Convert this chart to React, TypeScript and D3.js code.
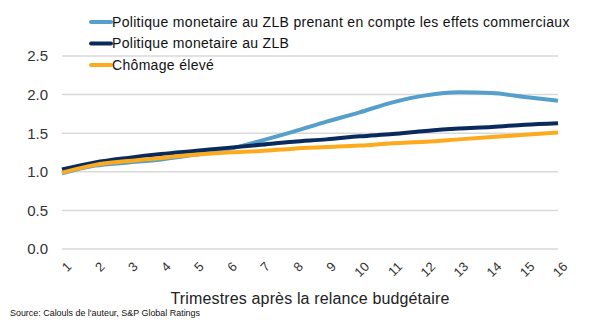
import React from "react";
import * as d3 from "d3";

const quarters = [1, 2, 3, 4, 5, 6, 7, 8, 9, 10, 11, 12, 13, 14, 15, 16];
const zlbTrade = [0.98, 1.08, 1.12, 1.16, 1.22, 1.29, 1.4, 1.52, 1.65, 1.77, 1.9, 1.99, 2.03, 2.02, 1.97, 1.92];
const zlb = [1.03, 1.12, 1.18, 1.23, 1.27, 1.31, 1.35, 1.39, 1.42, 1.46, 1.49, 1.53, 1.56, 1.58, 1.61, 1.63];
const chomage = [0.99, 1.09, 1.14, 1.18, 1.22, 1.25, 1.27, 1.3, 1.32, 1.34, 1.37, 1.39, 1.42, 1.45, 1.48, 1.51];
const yTicks = [0, 0.5, 1.0, 1.5, 2.0, 2.5];
const seriesNames = [
  "Politique monetaire au ZLB prenant en compte les effets commerciaux",
  "Politique monetaire au ZLB",
  "Chômage élevé",
];
const xTitle = "Trimestres après la relance budgétaire";
const source = "Source: Calouls de l'auteur, S&P Global Ratings";

const W = 591;
const H = 332;
const colors = ["#559FCB", "#082A5C", "#FDAA1C"];
const FONT = "'Liberation Sans', Arial, sans-serif";

export default function App() {
  const x = d3.scaleLinear().domain([1, 16]).range([62, 558]);
  const y = d3.scaleLinear().domain([0, 2.5]).range([249, 56]);
  const line = d3
    .line<number>()
    .x((_, i) => x(quarters[i]))
    .y((d) => y(d))
    .curve(d3.curveMonotoneX);
  const series = [zlbTrade, zlb, chomage];
  return (
    <svg
      width={W}
      height={H}
      style={{ position: "absolute", left: 0, top: 0, background: "#fff" }}
      fontFamily={FONT}
    >
      {yTicks.map((t) => (
        <g key={t}>
          <line x1={62} x2={558} y1={y(t)} y2={y(t)} stroke="#D9D9D9" strokeWidth={1.5} />
          <text x={48} y={y(t)} dy="0.36em" textAnchor="end" fontSize={15} fill="#333">
            {t.toFixed(1)}
          </text>
        </g>
      ))}
      {quarters.map((q) => (
        <text
          key={q}
          transform={`translate(${x(q) + 4},${261}) rotate(-45)`}
          textAnchor="end"
          fontSize={13}
          fill="#333"
          dy="0.7em"
        >
          {q}
        </text>
      ))}
      {series.map((s, i) => (
        <path key={i} d={line(s) || ""} fill="none" stroke={colors[i]} strokeWidth={4} strokeLinejoin="round" />
      ))}
      {seriesNames.map((n, i) => (
        <g key={n} transform={`translate(0,${22 + i * 21.5})`}>
          <line x1={91} x2={111} y1={0} y2={0} stroke={colors[i]} strokeWidth={4} strokeLinecap="round" />
          <text x={112} y={0} dy="0.35em" fontSize={14} fill="#111" letterSpacing={0.32}>
            {n}
          </text>
        </g>
      ))}
      <text x={310} y={304} textAnchor="middle" fontSize={16} fill="#222" letterSpacing={0.15}>
        {xTitle}
      </text>
      <text x={10} y={316} fontSize={9} fill="#111" textLength={190} lengthAdjust="spacingAndGlyphs">
        {source}
      </text>
    </svg>
  );
}
